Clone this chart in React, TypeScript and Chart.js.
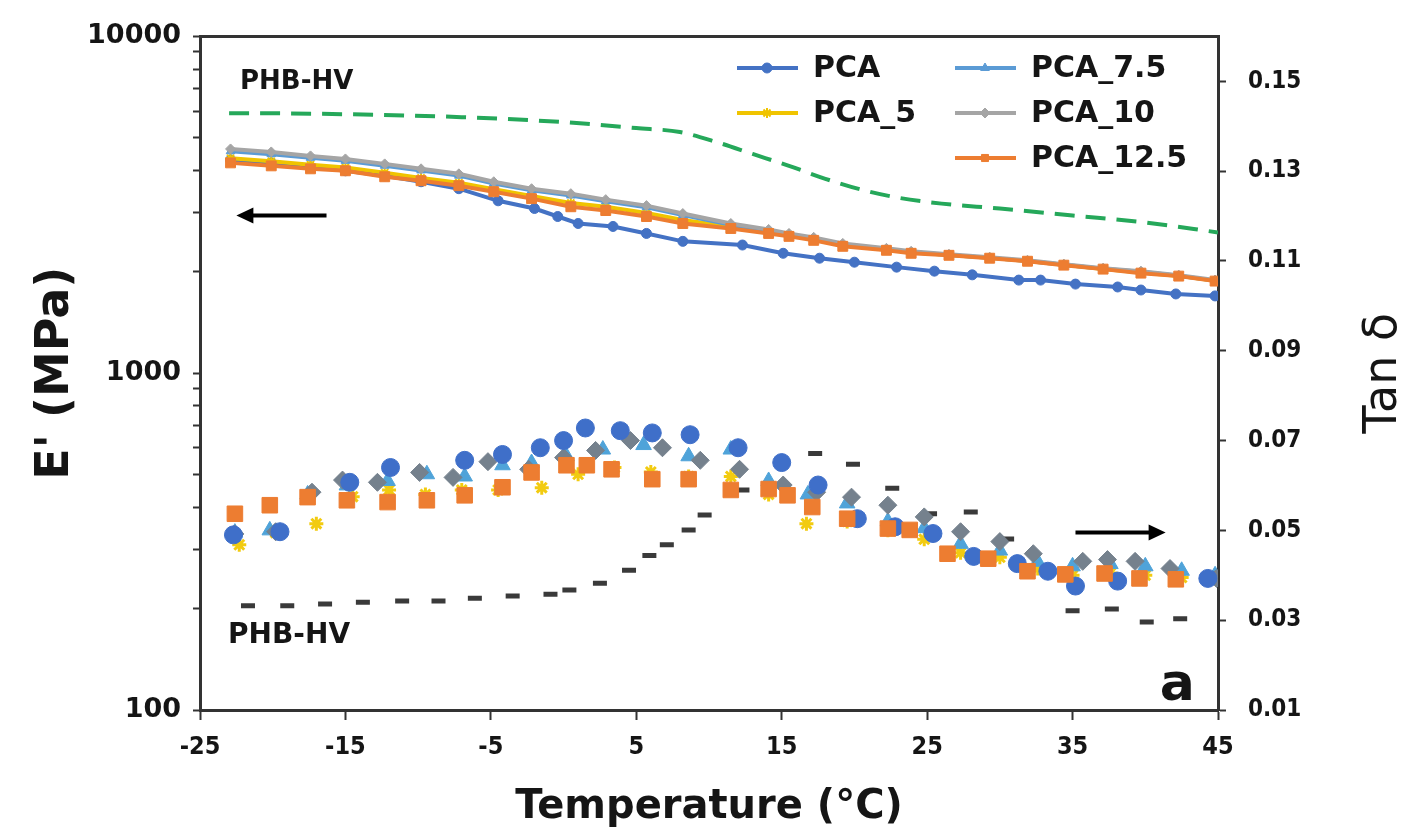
import React, { useEffect, useRef } from 'react';
import { Chart, registerables } from 'chart.js';
import * as helpers from 'chart.js/helpers';

Chart.register(...registerables);

// ---------- labels ----------
const SERIES_LABELS = ['PCA', 'PCA_5', 'PCA_7.5', 'PCA_10', 'PCA_12.5'];
const PHB_LABEL = 'PHB-HV';
const X_TITLE = 'Temperature (°C)';
const Y_TITLE = "E' (MPa)";
const Y2_TITLE = 'Tan δ';
const PANEL_LETTER = 'a';

// ---------- tick values ----------
const X_TICKS = [-25, -15, -5, 5, 15, 25, 35, 45];
const E_MAJOR_TICKS = [100, 1000, 10000];
const E_MINOR_TICKS = [200, 300, 400, 500, 600, 700, 800, 900, 2000, 3000, 4000, 5000, 6000, 7000, 8000, 9000];
const TAN_TICKS = [0.01, 0.03, 0.05, 0.07, 0.09, 0.11, 0.13, 0.15];

// ---------- storage modulus E' (MPa) ----------
const T_E_PCA = [-22.9, -20.1, -17.4, -15, -12.3, -9.8, -7.2, -4.5, -2, -0.4, 1, 3.4, 5.7, 8.2, 12.3, 15.1, 17.6, 20, 22.9, 25.5, 28.1, 31.3, 32.8, 35.2, 38.1, 39.7, 42.1, 44.8];
const E_PCA = [4298, 4212, 4100, 3990, 3856, 3702, 3530, 3250, 3083, 2919, 2783, 2727, 2600, 2463, 2402, 2270, 2195, 2136, 2065, 2009, 1959, 1890, 1890, 1839, 1803, 1766, 1719, 1696];

const T_E_OTHERS = [-22.9, -20.1, -17.4, -15, -12.3, -9.8, -7.2, -4.8, -2.2, 0.5, 2.9, 5.7, 8.2, 11.5, 14.1, 15.5, 17.2, 19.2, 22.2, 23.9, 26.5, 29.3, 31.9, 34.4, 37.1, 39.7, 42.3, 44.8];
const E_PCA_5 = [4350, 4260, 4160, 4080, 3940, 3800, 3680, 3520, 3360, 3200, 3120, 2990, 2850, 2720, 2630, 2575, 2500, 2400, 2330, 2285, 2245, 2200, 2155, 2098, 2040, 1990, 1945, 1880];
const E_PCA_7_5 = [4560, 4470, 4360, 4270, 4130, 4000, 3860, 3660, 3490, 3370, 3240, 3110, 2950, 2760, 2650, 2580, 2510, 2410, 2335, 2290, 2245, 2200, 2155, 2100, 2043, 2000, 1948, 1883];
const E_PCA_10 = [4633, 4539, 4418, 4327, 4183, 4044, 3908, 3702, 3530, 3412, 3276, 3145, 2979, 2783, 2672, 2600, 2531, 2429, 2348, 2301, 2255, 2209, 2164, 2107, 2050, 2009, 1955, 1890];
const E_PCA_12_5 = [4212, 4127, 4044, 3990, 3830, 3728, 3604, 3458, 3298, 3120, 3041, 2919, 2783, 2690, 2600, 2548, 2480, 2381, 2317, 2270, 2239, 2195, 2150, 2093, 2037, 1982, 1942, 1877];

const T_E_PHB = [-23, -22.6, -15, -7, 0, 5, 8, 10.5, 13, 15.5, 18, 20.5, 23, 26, 30, 35, 40, 45];
const E_PHB = [5916, 5916, 5875, 5757, 5565, 5343, 5200, 4858, 4477, 4127, 3778, 3505, 3320, 3188, 3083, 2938, 2802, 2618];

// ---------- tan delta ----------
const T_TAN_PCA = [-22.7, -19.5, -14.7, -11.9, -6.8, -4.2, -1.6, 0, 1.5, 3.9, 6.1, 8.7, 12, 15, 17.5, 20.2, 22.8, 25.4, 28.2, 31.2, 33.3, 35.2, 38.1, 44.3];
const TAN_PCA = [0.049, 0.0497, 0.0607, 0.064, 0.0656, 0.0669, 0.0684, 0.07, 0.0728, 0.0722, 0.0717, 0.0713, 0.0684, 0.0651, 0.0601, 0.0526, 0.0508, 0.0493, 0.0442, 0.0426, 0.0409, 0.0376, 0.0387, 0.0393];

const T_TAN_PCA_5 = [-22.3, -19.8, -17, -14.5, -12, -9.5, -7, -4.5, -1.5, 1, 3.5, 6, 8.6, 11.5, 14.1, 16.7, 19.5, 22.3, 24.8, 27.3, 30, 32.6, 35, 37.6, 40, 42.5];
const TAN_PCA_5 = [0.0468, 0.0495, 0.0515, 0.0575, 0.059, 0.058, 0.059, 0.059, 0.0595, 0.0625, 0.064, 0.063, 0.062, 0.062, 0.058, 0.0515, 0.052, 0.05, 0.048, 0.045, 0.044, 0.0415, 0.04, 0.0405, 0.04, 0.0395];

const T_TAN_PCA_7_5 = [-22.6, -20.2, -17.6, -14.9, -12.1, -9.4, -6.8, -4.2, -2.2, 0.2, 2.7, 5.5, 8.6, 11.5, 14.1, 16.8, 19.5, 22.3, 24.8, 27.3, 30, 32.6, 35, 37.6, 40, 42.5, 44.8];
const TAN_PCA_7_5 = [0.0495, 0.05, 0.058, 0.06, 0.061, 0.0625, 0.062, 0.0645, 0.065, 0.0665, 0.068, 0.069, 0.0665, 0.068, 0.061, 0.058, 0.056, 0.052, 0.0505, 0.047, 0.0455, 0.043, 0.042, 0.0425, 0.042, 0.041, 0.04];

const T_TAN_PCA_10 = [-22.6, -19.8, -17.3, -15.2, -12.8, -9.9, -7.6, -5.2, -2.4, 0, 2.2, 4.6, 6.8, 9.4, 12.1, 15.1, 17.4, 19.8, 22.3, 24.8, 27.3, 30, 32.3, 35.7, 37.4, 39.3, 41.7, 44.9];
const TAN_PCA_10 = [0.0492, 0.0497, 0.0585, 0.0612, 0.0607, 0.0629, 0.0618, 0.0653, 0.0636, 0.0662, 0.0678, 0.07, 0.0684, 0.0656, 0.0636, 0.0601, 0.0585, 0.0574, 0.0556, 0.053, 0.0497, 0.0475, 0.0448, 0.0431, 0.0435, 0.0431, 0.0415, 0.0393];

const T_TAN_PCA_12_5 = [-22.6, -20.2, -17.6, -14.9, -12.1, -9.4, -6.8, -4.2, -2.2, 0.2, 1.6, 3.3, 6.1, 8.6, 11.5, 14.1, 15.4, 17.1, 19.5, 22.3, 23.8, 26.4, 29.2, 31.9, 34.5, 37.2, 39.6, 42.1];
const TAN_PCA_12_5 = [0.0537, 0.0556, 0.0574, 0.0567, 0.0563, 0.0567, 0.0578, 0.0596, 0.0629, 0.0645, 0.0645, 0.0636, 0.0614, 0.0614, 0.059, 0.0592, 0.0578, 0.0552, 0.0526, 0.0504, 0.0501, 0.0448, 0.0437, 0.0409, 0.0402, 0.0404, 0.0393, 0.0391];

const T_TAN_PHB = [-21.7, -19, -16.4, -13.8, -11.1, -8.6, -6.1, -3.5, -0.9, 0.4, 2.5, 4.5, 5.9, 7.1, 8.6, 9.7, 12.3, 17.3, 19.9, 22.6, 25.2, 28, 30.5, 35, 37.7, 40.1, 42.4];
const TAN_PHB = [0.0332, 0.0332, 0.0336, 0.034, 0.0343, 0.0343, 0.0349, 0.0354, 0.0358, 0.0367, 0.0382, 0.0411, 0.0444, 0.0468, 0.0501, 0.0534, 0.059, 0.0671, 0.0647, 0.0594, 0.0537, 0.0541, 0.0481, 0.0321, 0.0325, 0.0296, 0.0303];

// ---------- styles ----------
const COLORS = ['#4472C4', '#F0C400', '#5B9BD5', '#A5A5A5', '#ED7D31'];
const TAN_COLORS = ['#3F6FC9', '#F2CB10', '#4FA3D9', '#75818D', '#ED7D31'];
const MARKERS = ['circle', 'star', 'triangle', 'rectRot', 'rect'];
const GREEN = '#25A85A';
const DASH_BLACK = '#3a3a3a';
const AXIS_COLOR = '#333333';
const TEXT = '#151515';
const BOLD_FONT = "'DejaVu Sans', 'Liberation Sans', sans-serif";
const NARROW_FONT = "'Liberation Sans Narrow', 'DejaVu Sans Condensed', 'Liberation Sans', sans-serif";

const pts = (xs: number[], ys: number[]) => xs.map((x, i) => ({ x, y: ys[i] }));

const E_SERIES = [E_PCA, E_PCA_5, E_PCA_7_5, E_PCA_10, E_PCA_12_5];
const E_TEMPS = [T_E_PCA, T_E_OTHERS, T_E_OTHERS, T_E_OTHERS, T_E_OTHERS];
const TAN_SERIES = [TAN_PCA, TAN_PCA_5, TAN_PCA_7_5, TAN_PCA_10, TAN_PCA_12_5];
const TAN_TEMPS = [T_TAN_PCA, T_TAN_PCA_5, T_TAN_PCA_7_5, T_TAN_PCA_10, T_TAN_PCA_12_5];
const E_ORDER = [5, 4, 3, 2, 1];
const TAN_ORDER = [2, 5, 4, 3, 1];
const TAN_RADIUS = [9, 7, 9, 9, 11];

function buildDatasets() {
  const ds: any[] = [];
  SERIES_LABELS.forEach((label, i) => {
    ds.push({
      label,
      inLegend: true,
      data: pts(E_TEMPS[i], E_SERIES[i]),
      yAxisID: 'y',
      showLine: true,
      borderColor: COLORS[i],
      backgroundColor: COLORS[i],
      borderWidth: 4,
      pointStyle: MARKERS[i],
      pointRadius: i === 4 ? 7 : 5,
      pointBorderWidth: i === 1 ? 2 : 1,
      pointBackgroundColor: COLORS[i],
      pointBorderColor: COLORS[i],
      order: E_ORDER[i],
    });
    ds.push({
      label: label + ' tan δ',
      data: pts(TAN_TEMPS[i], TAN_SERIES[i]),
      yAxisID: 'y2',
      showLine: false,
      pointStyle: MARKERS[i],
      pointRadius: TAN_RADIUS[i],
      pointBorderWidth: i === 1 ? 3 : 1,
      pointBackgroundColor: TAN_COLORS[i],
      pointBorderColor: TAN_COLORS[i],
      backgroundColor: TAN_COLORS[i],
      borderColor: TAN_COLORS[i],
      order: TAN_ORDER[i],
    });
  });
  ds.push({
    label: PHB_LABEL + " E'",
    data: pts(T_E_PHB, E_PHB),
    yAxisID: 'y',
    showLine: true,
    borderColor: GREEN,
    backgroundColor: GREEN,
    borderWidth: 4,
    borderDash: [20, 11],
    pointRadius: 0,
    cubicInterpolationMode: 'monotone',
    order: 8,
  });
  ds.push({
    label: PHB_LABEL + ' tan δ',
    data: pts(T_TAN_PHB, TAN_PHB),
    yAxisID: 'y2',
    showLine: false,
    pointStyle: 'line',
    pointRadius: 7,
    pointBorderWidth: 5,
    borderColor: DASH_BLACK,
    backgroundColor: DASH_BLACK,
    pointBorderColor: DASH_BLACK,
    order: 7,
  });
  return ds;
}

// annotation anchors (data coordinates)
const ANNOT_TEXTS = [
  { text: PHB_LABEL, x: -22.25, y: 7302, axis: 'y', size: 26, align: 'left', base: 'middle' },
  { text: PHB_LABEL, x: -23.07, y: 0.0265, axis: 'y2', size: 28, align: 'left', base: 'middle' },
  { text: PANEL_LETTER, x: 43.4, y: 0.0122, axis: 'y2', size: 52, align: 'right', base: 'alphabetic' },
];
const ARROWS = [
  { x0: -16.3, x1: -22.5, y: 2938, axis: 'y' },
  { x0: 35.2, x1: 41.4, y: 0.0495, axis: 'y2' },
];
// legend layout: [column x, row y]
const LEGEND_SLOTS = [
  [737, 68], [737, 113], [955, 68], [955, 113], [955, 158],
];

const decorPlugin = {
  id: 'decor',
  afterDraw(chart: any) {
    const { ctx, chartArea: a, scales } = chart;
    ctx.save();
    // top frame line
    ctx.strokeStyle = AXIS_COLOR;
    ctx.lineWidth = 3;
    ctx.beginPath();
    ctx.moveTo(a.left - 1, a.top);
    ctx.lineTo(a.right + 1, a.top);
    ctx.stroke();

    // arrows
    ctx.fillStyle = '#000';
    ctx.strokeStyle = '#000';
    ARROWS.forEach((ar) => {
      const x0 = scales.x.getPixelForValue(ar.x0);
      const x1 = scales.x.getPixelForValue(ar.x1);
      const y = scales[ar.axis].getPixelForValue(ar.y);
      const dir = Math.sign(x1 - x0);
      ctx.lineWidth = 4;
      ctx.beginPath();
      ctx.moveTo(x0, y);
      ctx.lineTo(x1 - dir * 12, y);
      ctx.stroke();
      ctx.beginPath();
      ctx.moveTo(x1, y);
      ctx.lineTo(x1 - dir * 17, y - 8);
      ctx.lineTo(x1 - dir * 17, y + 8);
      ctx.closePath();
      ctx.fill();
    });

    // annotation texts
    ctx.fillStyle = TEXT;
    ANNOT_TEXTS.forEach((t) => {
      ctx.font = `bold ${t.size}px ${BOLD_FONT}`;
      ctx.textAlign = t.align;
      ctx.textBaseline = t.base;
      ctx.fillText(t.text, scales.x.getPixelForValue(t.x), scales[t.axis].getPixelForValue(t.y));
    });

    // right axis title (reads bottom to top)
    ctx.save();
    ctx.translate(1384, (a.top + a.bottom) / 2);
    ctx.rotate(-Math.PI / 2);
    ctx.font = `500 46px ${BOLD_FONT}`;
    ctx.textAlign = 'center';
    ctx.textBaseline = 'middle';
    ctx.fillText(Y2_TITLE, 0, 0);
    ctx.restore();

    // legend (from the E' datasets)
    const items = chart.data.datasets.filter((d: any) => d.inLegend);
    items.forEach((d: any, i: number) => {
      const [lx, ly] = LEGEND_SLOTS[i];
      ctx.strokeStyle = d.borderColor;
      ctx.lineWidth = 4;
      ctx.beginPath();
      ctx.moveTo(lx, ly);
      ctx.lineTo(lx + 61, ly);
      ctx.stroke();
      ctx.fillStyle = d.pointBackgroundColor;
      ctx.strokeStyle = d.pointBorderColor;
      ctx.lineWidth = d.pointBorderWidth;
      helpers.drawPoint(ctx, { pointStyle: d.pointStyle, radius: 5, rotation: 0, borderWidth: d.pointBorderWidth }, lx + 30, ly);
      ctx.fillStyle = TEXT;
      ctx.font = `bold 30px ${BOLD_FONT}`;
      ctx.textAlign = 'left';
      ctx.textBaseline = 'middle';
      ctx.fillText(d.label, lx + 76, ly + 1);
    });
    ctx.restore();
  },
};

export default function App() {
  const ref = useRef<HTMLCanvasElement>(null);
  useEffect(() => {
    const axisGrid = {
      display: true,
      drawOnChartArea: false,
      drawTicks: true,
      tickLength: 8,
      tickWidth: 2,
      tickColor: AXIS_COLOR,
    };
    const chart = new Chart(ref.current as HTMLCanvasElement, {
      type: 'scatter',
      data: { datasets: buildDatasets() },
      options: {
        animation: false,
        responsive: true,
        maintainAspectRatio: false,
        layout: { padding: { top: 32, left: 0, right: 0, bottom: 0 } },
        plugins: { legend: { display: false }, tooltip: { enabled: false } },
        scales: {
          x: {
            type: 'linear',
            position: 'bottom',
            min: -25,
            max: 45,
            afterBuildTicks: (s: any) => { s.ticks = X_TICKS.map((v) => ({ value: v })); },
            afterFit: (s: any) => { s.height = 130; },
            grid: { ...axisGrid, tickLength: 10 },
            border: { display: true, color: AXIS_COLOR, width: 3 },
            ticks: {
              autoSkip: false,
              maxRotation: 0,
              padding: 12,
              color: TEXT,
              font: { family: NARROW_FONT, weight: 'bold', size: 25 },
              callback: (v: any) => String(v),
            },
            title: {
              display: true,
              text: X_TITLE,
              color: TEXT,
              font: { family: BOLD_FONT, weight: 'bold', size: 40 },
              padding: { top: 0, bottom: 8 },
            },
          },
          y: {
            type: 'logarithmic',
            position: 'left',
            min: 100,
            max: 10000,
            afterBuildTicks: (s: any) => {
              s.ticks = [...E_MAJOR_TICKS, ...E_MINOR_TICKS].sort((p, q) => p - q).map((v) => ({ value: v, major: E_MAJOR_TICKS.includes(v) }));
            },
            afterFit: (s: any) => { s.width = 200; },
            grid: { ...axisGrid, tickLength: 7 },
            border: { display: true, color: AXIS_COLOR, width: 3 },
            ticks: {
              autoSkip: false,
              padding: 12,
              color: TEXT,
              font: { family: BOLD_FONT, weight: 'bold', size: 27 },
              callback: (v: any) => (E_MAJOR_TICKS.includes(Number(v)) ? String(v) : ''),
            },
            title: {
              display: true,
              text: Y_TITLE,
              color: TEXT,
              font: { family: BOLD_FONT, weight: 'bold', size: 46 },
              padding: { top: 28, bottom: 0 },
            },
          },
          y2: {
            type: 'linear',
            position: 'right',
            min: 0.01,
            max: 0.16,
            afterBuildTicks: (s: any) => { s.ticks = TAN_TICKS.map((v) => ({ value: v })); },
            afterFit: (s: any) => { s.width = 191; },
            grid: { ...axisGrid, tickLength: 8 },
            border: { display: true, color: AXIS_COLOR, width: 3 },
            ticks: {
              autoSkip: false,
              padding: 22,
              color: TEXT,
              font: { family: NARROW_FONT, weight: 'bold', size: 24 },
              callback: (v: any) => Number(v).toFixed(2),
            },
          },
        },
      },
      plugins: [decorPlugin],
    } as any);
    return () => chart.destroy();
  }, []);
  return (
    <div style={{ position: 'fixed', left: 0, top: 0, width: 1409, height: 840, background: '#fff' }}>
      <canvas ref={ref} />
    </div>
  );
}
